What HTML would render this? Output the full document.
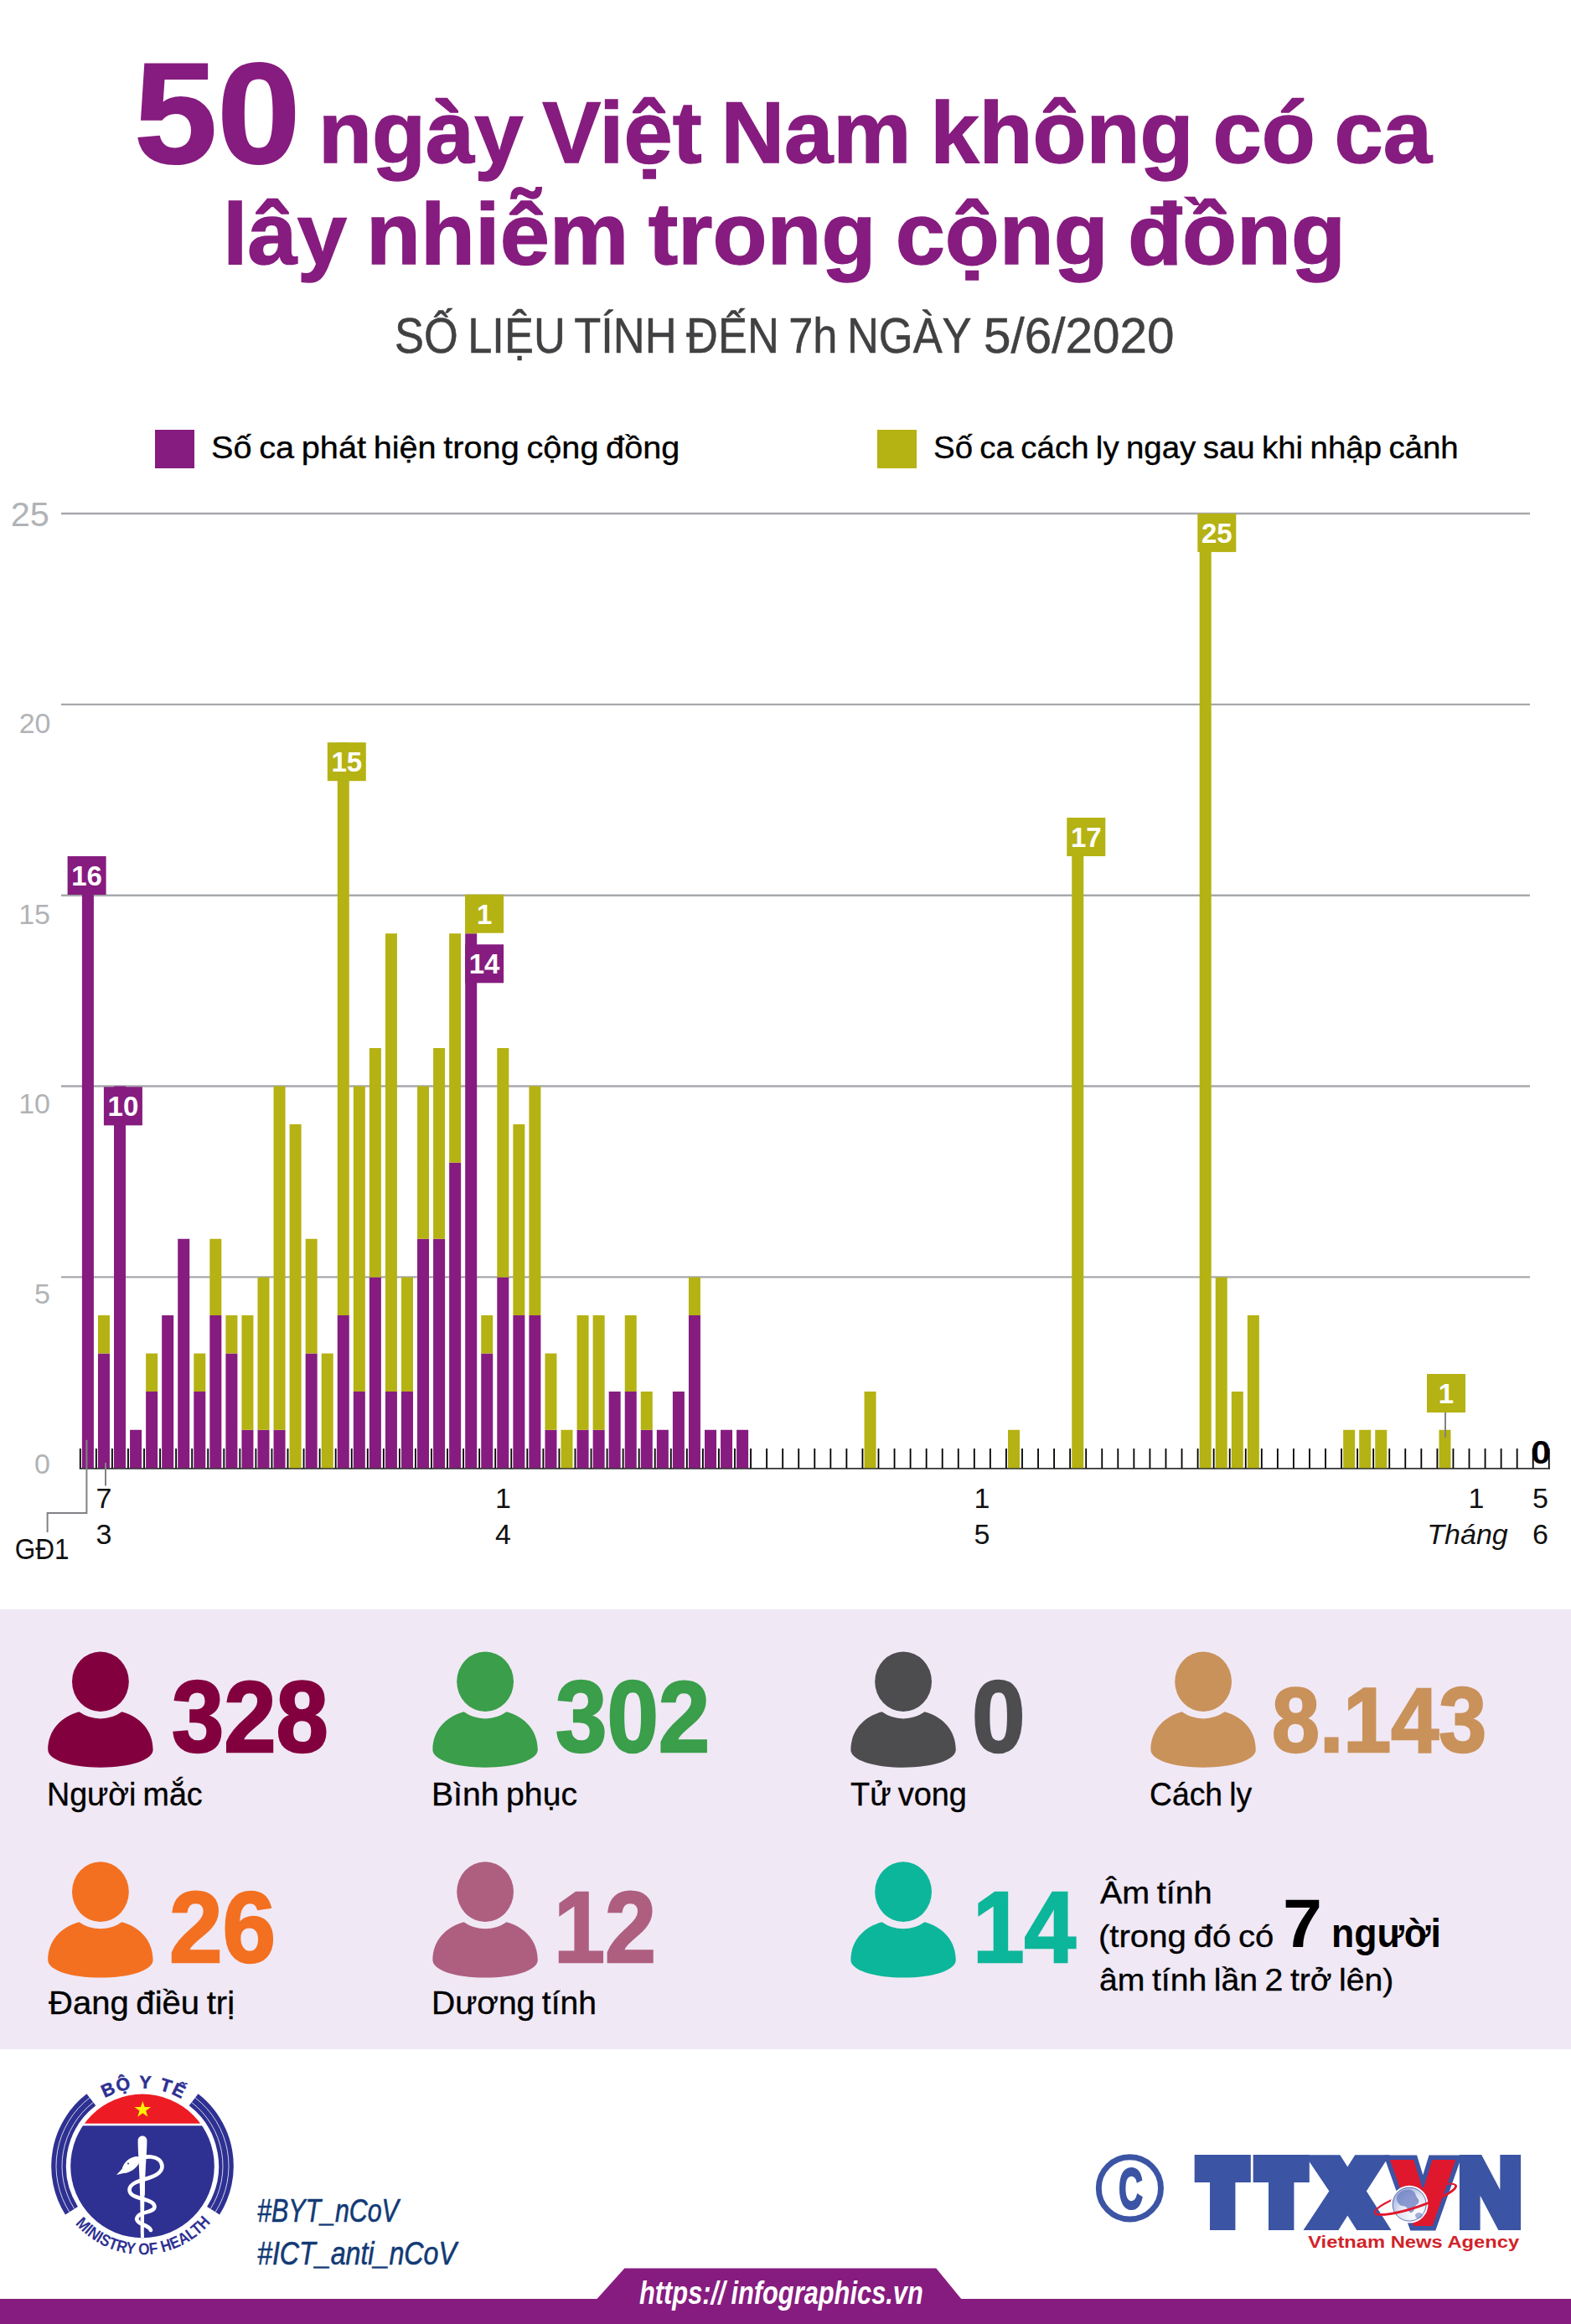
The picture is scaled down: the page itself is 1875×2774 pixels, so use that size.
<!DOCTYPE html>
<html lang="vi">
<head>
<meta charset="utf-8">
<title>50 ngày Việt Nam không có ca lây nhiễm trong cộng đồng</title>
<style>
html,body{margin:0;padding:0;background:#fff}
body{width:1875px;height:2774px;position:relative;overflow:hidden;font-family:"Liberation Sans",sans-serif}
.t{word-spacing:-0.06em;position:absolute;margin:0;padding:0;white-space:nowrap;line-height:1;transform-origin:0 0;font-weight:400;display:block}
svg{position:absolute;left:0;top:0;overflow:visible}
svg text{font-family:"Liberation Sans",sans-serif}
.sq{position:absolute;width:47px;height:46px;top:513px}
h1,p{margin:0;font-size:inherit;font-weight:inherit}
#stats{position:absolute;left:0;top:1921px;width:1875px;height:525px;background:#f0e8f5}
#bar{position:absolute;left:0;top:2744px;width:1875px;height:30px;background:#861c7f}
</style>
</head>
<body>
<header>
<h1>
<span class="t title" style="left:159.8px;top:50.2px;font-size:170px;transform:scaleX(1.0493);color:#861c7f;font-weight:700;-webkit-text-stroke:2px #861c7f;">50</span>
<span class="t title" style="left:380.2px;top:107.3px;font-size:103px;transform:scaleX(1.0172);color:#861c7f;font-weight:700;-webkit-text-stroke:1.4px #861c7f;">ngày Việt Nam không có ca</span>
<span class="t title" style="left:266.1px;top:228.1px;font-size:103px;transform:scaleX(1.0331);color:#861c7f;font-weight:700;-webkit-text-stroke:1.4px #861c7f;">lây nhiễm trong cộng đồng</span>
</h1>
<p id="sub">
<span class="t sub" style="left:470.6px;top:372.0px;font-size:59px;transform:scaleX(0.8889);color:#414042;-webkit-text-stroke:0.5px #414042;">SỐ LIỆU TÍNH ĐẾN 7h NGÀY</span>
<span class="t sub" style="left:1173.8px;top:372.0px;font-size:59px;transform:scaleX(0.9901);color:#414042;-webkit-text-stroke:0.5px #414042;">5/6/2020</span>
</p>
</header>
<section id="legend">
<span class="sq" style="left:185px;background:#861c7f"></span>
<span class="sq" style="left:1047px;background:#b5b213"></span>
<span class="t legend" style="left:251.6px;top:516.4px;font-size:37px;transform:scaleX(1.0726);color:#000;-webkit-text-stroke:0.35px #000;">Số ca phát hiện trong cộng đồng</span>
<span class="t legend" style="left:1113.6px;top:516.4px;font-size:37px;transform:scaleX(1.0386);color:#000;-webkit-text-stroke:0.35px #000;">Số ca cách ly ngay sau khi nhập cảnh</span>
</section>
<section id="chart">
<svg width="1875" height="1900" viewBox="0 0 1875 1900" role="img" aria-label="Biểu đồ số ca theo ngày">
<g stroke="#a7a9ac" stroke-width="2.4">
<line x1="73" x2="1826" y1="1524.4" y2="1524.4"/>
<line x1="73" x2="1826" y1="1296.5" y2="1296.5"/>
<line x1="73" x2="1826" y1="1068.7" y2="1068.7"/>
<line x1="73" x2="1826" y1="840.9" y2="840.9"/>
<line x1="73" x2="1826" y1="613.0" y2="613.0"/>
</g>
<g fill="#b1b3b6" text-anchor="end" font-size="34">
<text x="58.8" y="628.4" font-size="41.5">25</text>
<text x="60.5" y="875.3">20</text>
<text x="60" y="1102.7">15</text>
<text x="60" y="1329.1">10</text>
<text x="60" y="1555.9">5</text>
<text x="60" y="1758.5">0</text>
</g>
<line x1="94.8" x2="1850" y1="1752.8" y2="1752.8" stroke="#333" stroke-width="1.7"/>
<path d="M95.80 1729V1752.6M114.85 1729V1752.6M133.91 1729V1752.6M152.96 1729V1752.6M172.02 1729V1752.6M191.07 1729V1752.6M210.12 1729V1752.6M229.18 1729V1752.6M248.23 1729V1752.6M267.29 1729V1752.6M286.34 1729V1752.6M305.39 1729V1752.6M324.45 1729V1752.6M343.50 1729V1752.6M362.56 1729V1752.6M381.61 1729V1752.6M400.66 1729V1752.6M419.72 1729V1752.6M438.77 1729V1752.6M457.83 1729V1752.6M476.88 1729V1752.6M495.93 1729V1752.6M514.99 1729V1752.6M534.04 1729V1752.6M553.10 1729V1752.6M572.15 1729V1752.6M591.20 1729V1752.6M610.26 1729V1752.6M629.31 1729V1752.6M648.37 1729V1752.6M667.42 1729V1752.6M686.47 1729V1752.6M705.53 1729V1752.6M724.58 1729V1752.6M743.64 1729V1752.6M762.69 1729V1752.6M781.74 1729V1752.6M800.80 1729V1752.6M819.85 1729V1752.6M838.91 1729V1752.6M857.96 1729V1752.6M877.01 1729V1752.6M896.07 1729V1752.6M915.12 1729V1752.6M934.18 1729V1752.6M953.23 1729V1752.6M972.28 1729V1752.6M991.34 1729V1752.6M1010.39 1729V1752.6M1029.45 1729V1752.6M1048.50 1729V1752.6M1067.55 1729V1752.6M1086.61 1729V1752.6M1105.66 1729V1752.6M1124.72 1729V1752.6M1143.77 1729V1752.6M1162.82 1729V1752.6M1181.88 1729V1752.6M1200.93 1729V1752.6M1219.99 1729V1752.6M1239.04 1729V1752.6M1258.09 1729V1752.6M1277.15 1729V1752.6M1296.20 1729V1752.6M1315.26 1729V1752.6M1334.31 1729V1752.6M1353.36 1729V1752.6M1372.42 1729V1752.6M1391.47 1729V1752.6M1410.53 1729V1752.6M1429.58 1729V1752.6M1448.63 1729V1752.6M1467.69 1729V1752.6M1486.74 1729V1752.6M1505.80 1729V1752.6M1524.85 1729V1752.6M1543.90 1729V1752.6M1562.96 1729V1752.6M1582.01 1729V1752.6M1601.07 1729V1752.6M1620.12 1729V1752.6M1639.17 1729V1752.6M1658.23 1729V1752.6M1677.28 1729V1752.6M1696.34 1729V1752.6M1715.39 1729V1752.6M1734.44 1729V1752.6M1753.50 1729V1752.6M1772.55 1729V1752.6M1791.61 1729V1752.6M1810.66 1729V1752.6M1829.71 1729V1752.6M1848.77 1729V1752.6" stroke="#000" stroke-width="1.8" fill="none"/>
<path d="M97.90 1752.2H111.90V1023.1H97.90ZM116.95 1752.2H130.95V1615.5H116.95ZM136.01 1752.2H150.01V1296.5H136.01ZM155.06 1752.2H169.06V1706.7H155.06ZM174.12 1752.2H188.12V1661.1H174.12ZM193.17 1752.2H207.17V1570.0H193.17ZM212.22 1752.2H226.22V1478.8H212.22ZM231.28 1752.2H245.28V1661.1H231.28ZM250.33 1752.2H264.33V1570.0H250.33ZM269.39 1752.2H283.39V1615.5H269.39ZM288.44 1752.2H302.44V1706.7H288.44ZM307.49 1752.2H321.49V1706.7H307.49ZM326.55 1752.2H340.55V1706.7H326.55ZM364.66 1752.2H378.66V1615.5H364.66ZM402.76 1752.2H416.76V1570.0H402.76ZM421.82 1752.2H435.82V1661.1H421.82ZM440.87 1752.2H454.87V1524.4H440.87ZM459.93 1752.2H473.93V1661.1H459.93ZM478.98 1752.2H492.98V1661.1H478.98ZM498.03 1752.2H512.03V1478.8H498.03ZM517.09 1752.2H531.09V1478.8H517.09ZM536.14 1752.2H550.14V1387.7H536.14ZM555.20 1752.2H569.20V1114.3H555.20ZM574.25 1752.2H588.25V1615.5H574.25ZM593.30 1752.2H607.30V1524.4H593.30ZM612.36 1752.2H626.36V1570.0H612.36ZM631.41 1752.2H645.41V1570.0H631.41ZM650.47 1752.2H664.47V1706.7H650.47ZM688.57 1752.2H702.57V1706.7H688.57ZM707.63 1752.2H721.63V1706.7H707.63ZM726.68 1752.2H740.68V1661.1H726.68ZM745.74 1752.2H759.74V1661.1H745.74ZM764.79 1752.2H778.79V1706.7H764.79ZM783.84 1752.2H797.84V1706.7H783.84ZM802.90 1752.2H816.90V1661.1H802.90ZM821.95 1752.2H835.95V1570.0H821.95ZM841.01 1752.2H855.01V1706.7H841.01ZM860.06 1752.2H874.06V1706.7H860.06ZM879.11 1752.2H893.11V1706.7H879.11Z" fill="#861c7f"/>
<path d="M116.95 1615.5H130.95V1570.0H116.95ZM174.12 1661.1H188.12V1615.5H174.12ZM231.28 1661.1H245.28V1615.5H231.28ZM250.33 1570.0H264.33V1478.8H250.33ZM269.39 1615.5H283.39V1570.0H269.39ZM288.44 1706.7H302.44V1570.0H288.44ZM307.49 1706.7H321.49V1524.4H307.49ZM326.55 1706.7H340.55V1296.5H326.55ZM345.60 1752.2H359.60V1342.1H345.60ZM364.66 1615.5H378.66V1478.8H364.66ZM383.71 1752.2H397.71V1615.5H383.71ZM402.76 1570.0H416.76V886.4H402.76ZM421.82 1661.1H435.82V1296.5H421.82ZM440.87 1524.4H454.87V1251.0H440.87ZM459.93 1661.1H473.93V1114.3H459.93ZM478.98 1661.1H492.98V1524.4H478.98ZM498.03 1478.8H512.03V1296.5H498.03ZM517.09 1478.8H531.09V1251.0H517.09ZM536.14 1387.7H550.14V1114.3H536.14ZM555.20 1114.3H569.20V1068.7H555.20ZM574.25 1615.5H588.25V1570.0H574.25ZM593.30 1524.4H607.30V1251.0H593.30ZM612.36 1570.0H626.36V1342.1H612.36ZM631.41 1570.0H645.41V1296.5H631.41ZM650.47 1706.7H664.47V1615.5H650.47ZM669.52 1752.2H683.52V1706.7H669.52ZM688.57 1706.7H702.57V1570.0H688.57ZM707.63 1706.7H721.63V1570.0H707.63ZM745.74 1661.1H759.74V1570.0H745.74ZM764.79 1706.7H778.79V1661.1H764.79ZM821.95 1570.0H835.95V1524.4H821.95ZM1031.55 1752.2H1045.55V1661.1H1031.55ZM1203.03 1752.2H1217.03V1706.7H1203.03ZM1279.25 1752.2H1293.25V977.6H1279.25ZM1431.68 1752.2H1445.68V613.0H1431.68ZM1450.73 1752.2H1464.73V1524.4H1450.73ZM1469.79 1752.2H1483.79V1661.1H1469.79ZM1488.84 1752.2H1502.84V1570.0H1488.84ZM1603.17 1752.2H1617.17V1706.7H1603.17ZM1622.22 1752.2H1636.22V1706.7H1622.22ZM1641.27 1752.2H1655.27V1706.7H1641.27ZM1717.49 1752.2H1731.49V1706.7H1717.49Z" fill="#b5b213"/>
<rect x="80.6" y="1022.0" width="46" height="46" fill="#861c7f"/>
<text x="103.6" y="1057.0" font-size="33" font-weight="700" fill="#fff" text-anchor="middle">16</text>
<rect x="123.9" y="1297.3" width="46" height="46" fill="#861c7f"/>
<text x="146.9" y="1332.3" font-size="33" font-weight="700" fill="#fff" text-anchor="middle">10</text>
<rect x="390.8" y="886.2" width="46" height="46" fill="#b5b213"/>
<text x="413.8" y="921.2" font-size="33" font-weight="700" fill="#fff" text-anchor="middle">15</text>
<rect x="555.1" y="1067.7" width="46" height="46" fill="#b5b213"/>
<text x="578.1" y="1102.7" font-size="33" font-weight="700" fill="#fff" text-anchor="middle">1</text>
<rect x="555.1" y="1127.3" width="46" height="46" fill="#861c7f"/>
<text x="578.1" y="1162.3" font-size="33" font-weight="700" fill="#fff" text-anchor="middle">14</text>
<rect x="1273.3" y="976.0" width="46" height="46" fill="#b5b213"/>
<text x="1296.3" y="1011.0" font-size="33" font-weight="700" fill="#fff" text-anchor="middle">17</text>
<rect x="1429.3" y="612.9" width="46" height="46" fill="#b5b213"/>
<text x="1452.3" y="647.9" font-size="33" font-weight="700" fill="#fff" text-anchor="middle">25</text>
<rect x="1703.0" y="1640.0" width="46" height="46" fill="#b5b213"/>
<text x="1726.0" y="1675.0" font-size="33" font-weight="700" fill="#fff" text-anchor="middle">1</text>
<g stroke="#808285" stroke-width="2" fill="none">
<path d="M1725 1686V1716"/>
<path d="M103.4 1718.7V1806H56.6V1829"/>
<path d="M126 1746V1773.5"/>
</g>
<text transform="translate(1839 1747) scale(1.12 1)" font-size="38" font-weight="700" fill="#000" text-anchor="middle">0</text>
<g fill="#111" font-size="34" text-anchor="middle">
<text x="124.0" y="1800">7</text><text x="124.0" y="1843">3</text>
<text x="600.5" y="1800">1</text><text x="600.5" y="1843">4</text>
<text x="1172.0" y="1800">1</text><text x="1172.0" y="1843">5</text>
<text x="1762" y="1800">1</text>
<text x="1838.5" y="1800">5</text><text x="1838.5" y="1843">6</text>
<text x="1751.5" y="1843" font-style="italic">Tháng</text>
<text transform="translate(50.2 1861) scale(0.9 1)" font-size="35">GĐ1</text>
</g>
</svg>
</section>
<section id="stats">
<svg width="1875" height="525" viewBox="0 0 1875 525" aria-hidden="true">
<defs><g id="person"><ellipse cx="63.9" cy="36.9" rx="33.9" ry="35.8"/><path d="M38.4 73C16 79 1.2 96 1.2 118.3C1.2 130.6 28.5 139.4 63.9 139.4C99.3 139.4 126.6 130.6 126.6 118.3C126.6 96 111.8 79 89.4 73A44.2 44.2 0 0 1 38.4 73Z"/></g></defs>
<use href="#person" x="56" y="49.3" fill="#83003f"/>
<use href="#person" x="515.2" y="49.3" fill="#3a9e4a"/>
<use href="#person" x="1014.2" y="49.3" fill="#4d4d4f"/>
<use href="#person" x="1372.2" y="49.3" fill="#c9925b"/>
<use href="#person" x="56" y="300.2" fill="#f37021"/>
<use href="#person" x="515.2" y="300.2" fill="#ae5f7f"/>
<use href="#person" x="1014.2" y="300.2" fill="#0cb69a"/>
</svg>
</section>
<section id="stattext">
<span class="t stat" style="left:56.2px;top:2122.8px;font-size:38px;transform:scaleX(0.9906);color:#000;-webkit-text-stroke:0.35px #000;">Người mắc</span>
<span class="t stat" style="left:514.7px;top:2122.8px;font-size:38px;transform:scaleX(1.0306);color:#000;-webkit-text-stroke:0.35px #000;">Bình phục</span>
<span class="t stat" style="left:1014.8px;top:2122.8px;font-size:38px;transform:scaleX(0.9967);color:#000;-webkit-text-stroke:0.35px #000;">Tử vong</span>
<span class="t stat" style="left:1372.4px;top:2122.8px;font-size:38px;transform:scaleX(0.9813);color:#000;-webkit-text-stroke:0.35px #000;">Cách ly</span>
<span class="t stat" style="left:58.2px;top:2372.0px;font-size:38px;transform:scaleX(1.0530);color:#000;-webkit-text-stroke:0.35px #000;">Đang điều trị</span>
<span class="t stat" style="left:515.1px;top:2372.0px;font-size:38px;transform:scaleX(1.0269);color:#000;-webkit-text-stroke:0.35px #000;">Dương tính</span>
<b class="t stat" style="left:204.8px;top:1989.0px;font-size:121px;transform:scaleX(0.9254);color:#83003f;font-weight:700;-webkit-text-stroke:2.5px #83003f;">328</b>
<b class="t stat" style="left:662.8px;top:1989.0px;font-size:121px;transform:scaleX(0.9129);color:#3a9e4a;font-weight:700;-webkit-text-stroke:2.5px #3a9e4a;">302</b>
<b class="t stat" style="left:1160.1px;top:1989.0px;font-size:121px;transform:scaleX(0.9442);color:#4d4d4f;font-weight:700;-webkit-text-stroke:2.5px #4d4d4f;">0</b>
<b class="t stat" style="left:1518.2px;top:1998.0px;font-size:110px;transform:scaleX(0.9304);color:#c9925b;font-weight:700;-webkit-text-stroke:2.5px #c9925b;">8.143</b>
<b class="t stat" style="left:201.6px;top:2239.9px;font-size:121px;transform:scaleX(0.9440);color:#f37021;font-weight:700;-webkit-text-stroke:2.5px #f37021;">26</b>
<b class="t stat" style="left:661.3px;top:2239.9px;font-size:121px;transform:scaleX(0.9066);color:#ae5f7f;font-weight:700;-webkit-text-stroke:2.5px #ae5f7f;">12</b>
<b class="t stat" style="left:1160.5px;top:2239.9px;font-size:121px;transform:scaleX(0.9149);color:#0cb69a;font-weight:700;-webkit-text-stroke:2.5px #0cb69a;">14</b>
<span class="t stat" style="left:1313.0px;top:2241.6px;font-size:36.5px;transform:scaleX(1.0814);color:#000;-webkit-text-stroke:0.35px #000;">Âm tính</span>
<span class="t stat" style="left:1311.1px;top:2293.7px;font-size:36.5px;transform:scaleX(1.0994);color:#000;-webkit-text-stroke:0.35px #000;">(trong đó có</span>
<b class="t stat" style="left:1531.0px;top:2254.8px;font-size:82px;transform:scaleX(1.0297);color:#000;font-weight:700;">7</b>
<b class="t stat" style="left:1589.3px;top:2282.8px;font-size:48.6px;transform:scaleX(0.9187);color:#000;font-weight:700;">người</b>
<span class="t stat" style="left:1311.8px;top:2346.0px;font-size:36.5px;transform:scaleX(1.0731);color:#000;-webkit-text-stroke:0.35px #000;">âm tính lần 2 trở lên)</span>
</section>
<footer>
<div id="bar"></div>
<svg style="top:2446px" width="1875" height="328" viewBox="0 2446 1875 328">
<polygon points="745.4,2707.6 1117.3,2707.6 1147.6,2744.5 712.1,2744.5" fill="#861c7f"/>
<g id="moh">
<defs><clipPath id="mc"><circle cx="170" cy="2585.4" r="85.8"/></clipPath>
<path id="tp1" d="M89.72 2539.05A92.7 92.7 0 0 1 250.28 2539.05"/>
<path id="tp2" d="M64.20 2585.40A105.8 105.8 0 0 0 275.80 2585.40"/>
</defs>
<g clip-path="url(#mc)"><rect x="80" y="2495" width="180" height="39.7" fill="#ed1c24"/><rect x="80" y="2537.3" width="180" height="140" fill="#2e3192"/></g>
<path d="M231.12 2506.32A99.95 99.95 0 0 1 254.58 2638.66" stroke="#2e3192" stroke-width="17.7" fill="none"/>
<path d="M232.99 2503.90A103 103 0 0 1 257.16 2640.29" stroke="#fff" stroke-width="0.8" fill="none"/>
<path d="M228.71 2509.44A96 96 0 0 1 251.23 2636.56" stroke="#fff" stroke-width="0.8" fill="none"/>
<path d="M108.88 2506.32A99.95 99.95 0 0 0 85.42 2638.66" stroke="#2e3192" stroke-width="17.7" fill="none"/>
<path d="M107.01 2503.90A103 103 0 0 0 82.84 2640.29" stroke="#fff" stroke-width="0.8" fill="none"/>
<path d="M111.29 2509.44A96 96 0 0 0 88.77 2636.56" stroke="#fff" stroke-width="0.8" fill="none"/>
<polygon points="170.30,2507.90 172.65,2515.06 180.19,2515.09 174.10,2519.54 176.41,2526.71 170.30,2522.30 164.19,2526.71 166.50,2519.54 160.41,2515.09 167.95,2515.06" fill="#fff200"/>
<path d="M164.6 2555C164.6 2547.5 175.4 2547.5 175.4 2555C175.4 2575 172.3 2590 172 2671L168 2671C167.7 2590 164.6 2575 164.6 2555Z" fill="#fff"/>
<path d="M161 2581C170 2571 193 2572 193.5 2586C193.5 2598 172 2600 162 2605C152 2610 152 2618 162 2622C172 2626 184 2627 184.5 2634C184.5 2640 172 2640 166 2644C161 2648 163 2652 170 2655C175 2657 179 2659 180 2662" stroke="#fff" stroke-width="4.6" fill="none" stroke-linecap="round"/>
<path d="M165 2574C156 2573.5 148 2580 145.5 2589L139 2596L147.5 2594C155 2593.5 162 2589 166 2582Z" fill="#fff"/>
<circle cx="153" cy="2582.5" r="1" fill="#2e3192"/>
<rect x="167.2" y="2608" width="5.6" height="12" fill="#fff"/>
<g fill="#2e3192" font-weight="700">
<text font-size="21.5" stroke="#2e3192" stroke-width="0.5" letter-spacing="1.4" word-spacing="1"><textPath href="#tp1" startOffset="50.8%" text-anchor="middle">BỘ Y TẾ</textPath></text>
<text font-size="19.5"><textPath href="#tp2" startOffset="75" textLength="184" lengthAdjust="spacingAndGlyphs">MINISTRY OF HEALTH</textPath></text>
</g>
</g>
<g id="ttxvn">
<circle cx="1348.4" cy="2611.9" r="37.1" fill="none" stroke="#3b54a4" stroke-width="6.9"/>
<text transform="translate(1349.6 2636.2) scale(0.58 1)" font-size="68" font-weight="700" fill="#3b54a4" stroke="#3b54a4" stroke-width="3" text-anchor="middle">C</text>
<text transform="translate(1459.3 2650.7) scale(0.842 1)" font-size="98" font-weight="700" fill="#3b54a4" stroke="#3b54a4" stroke-width="22" stroke-linejoin="miter" stroke-miterlimit="3" text-anchor="middle">T</text>
<text transform="translate(1529.1 2650.7) scale(0.842 1)" font-size="98" font-weight="700" fill="#3b54a4" stroke="#3b54a4" stroke-width="22" stroke-linejoin="miter" stroke-miterlimit="3" text-anchor="middle">T</text>
<text transform="translate(1608.3 2650.7) scale(1.01 1)" font-size="98" font-weight="700" fill="#3b54a4" stroke="#3b54a4" stroke-width="22" stroke-linejoin="miter" stroke-miterlimit="3" text-anchor="middle">X</text>
<text transform="translate(1778.5 2655.7) scale(0.936 1)" font-size="112.5" font-weight="700" fill="#3b54a4" stroke="#3b54a4" stroke-width="12" stroke-linejoin="miter" stroke-miterlimit="2" text-anchor="middle">N</text>
<text transform="translate(1698.2 2649.9) scale(0.962 1)" font-size="94.2" font-weight="700" fill="#3b54a4" stroke="#3b54a4" stroke-width="25" stroke-linejoin="miter" stroke-miterlimit="3" text-anchor="middle">V</text>
<text transform="translate(1698.2 2649.9) scale(0.962 1)" font-size="94.2" font-weight="700" fill="#e0182d" stroke="#e0182d" stroke-width="14" stroke-linejoin="miter" stroke-miterlimit="3" text-anchor="middle">V</text>
<defs><radialGradient id="gg" cx="0.7" cy="0.75" r="0.9"><stop offset="0" stop-color="#fff"/><stop offset="0.55" stop-color="#dfe4f4"/><stop offset="1" stop-color="#8e9fd3"/></radialGradient></defs>
<ellipse cx="1689.3" cy="2625.0" rx="50.8" ry="9.5" transform="rotate(-18.5 1689.3 2625.0)" fill="none" stroke="#e0182d" stroke-width="2.2"/>
<circle cx="1682.1" cy="2631.1" r="21.2" fill="url(#gg)" stroke="#fff" stroke-width="2.4"/>
<circle cx="1682.1" cy="2631.1" r="20" fill="none" stroke="#3b54a4" stroke-width="0.8"/>
<path d="M1668 2620C1672 2614 1681 2612 1686 2615C1690 2617 1689 2621 1692 2624C1695 2627 1693 2631 1690 2632C1688 2634 1689 2639 1685 2641C1682 2642 1681 2638 1679 2635C1676 2632 1672 2634 1670 2631C1667 2628 1666 2624 1668 2620Z" fill="#6b7cc2" opacity="0.75"/>
<path d="M1690 2642C1693 2640 1697 2641 1698 2644C1698 2647 1694 2649 1691 2648C1689 2646 1688 2644 1690 2642Z" fill="#6b7cc2" opacity="0.6"/>
<path d="M1641.1 2641.1A50.8 9.5 -18.5 0 0 1737.5 2608.9" fill="none" stroke="#e0182d" stroke-width="2.8" stroke-linecap="round"/>
<text x="1561.2" y="2683.4" font-size="20" font-weight="700" fill="#d2232a" textLength="252" lengthAdjust="spacingAndGlyphs">Vietnam News Agency</text>
</g>
</svg>
<span class="t foot" style="left:307.4px;top:2619.8px;font-size:38px;transform:scaleX(0.7995);color:#123a75;font-style:italic;-webkit-text-stroke:0.6px #123a75;">#BYT_nCoV</span>
<span class="t foot" style="left:307.4px;top:2670.8px;font-size:38px;transform:scaleX(0.8469);color:#123a75;font-style:italic;-webkit-text-stroke:0.6px #123a75;">#ICT_anti_nCoV</span>
<span class="t foot" style="left:762.5px;top:2718.0px;font-size:38px;transform:scaleX(0.8108);color:#fff;font-weight:700;font-style:italic;">https:// infographics.vn</span>
</footer>
</body>
</html>
